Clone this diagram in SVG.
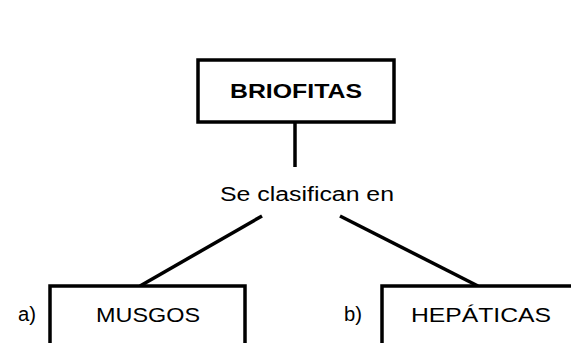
<svg xmlns="http://www.w3.org/2000/svg" width="571" height="343" viewBox="0 0 571 343">
<style>
.box{fill:#fff;stroke:#000;stroke-width:3.5}
.t{font-family:"Liberation Sans",Arial,sans-serif;font-size:20px;fill:#000}
.b{font-weight:bold}
.c{stroke:#000;stroke-width:3.5;fill:none}
</style>
<rect width="571" height="343" fill="#fff"/>
<g id="connectors">
<line class="c" x1="295" y1="122" x2="295" y2="167"/>
<line class="c" x1="262" y1="216" x2="140" y2="286"/>
<line class="c" x1="340" y1="216" x2="478" y2="286"/>
</g>
<g id="briofitas">
<rect class="box" x="198" y="60" width="196" height="62"/>
<text class="t b" x="296" y="98" text-anchor="middle" textLength="132" lengthAdjust="spacingAndGlyphs">BRIOFITAS</text>
</g>
<g id="label">
<text class="t" x="307" y="201" text-anchor="middle" textLength="174" lengthAdjust="spacingAndGlyphs">Se clasifican en</text>
</g>
<g id="musgos">
<text class="t" x="18" y="321" textLength="18" lengthAdjust="spacingAndGlyphs">a)</text>
<rect class="box" x="50" y="286" width="195" height="70"/>
<text class="t" x="148" y="322" text-anchor="middle" textLength="104" lengthAdjust="spacingAndGlyphs">MUSGOS</text>
</g>
<g id="hepaticas">
<text class="t" x="344" y="321" textLength="18" lengthAdjust="spacingAndGlyphs">b)</text>
<rect class="box" x="382" y="286" width="200" height="70"/>
<text class="t" x="481" y="322" text-anchor="middle" textLength="140" lengthAdjust="spacingAndGlyphs">HEPÁTICAS</text>
</g>
</svg>
